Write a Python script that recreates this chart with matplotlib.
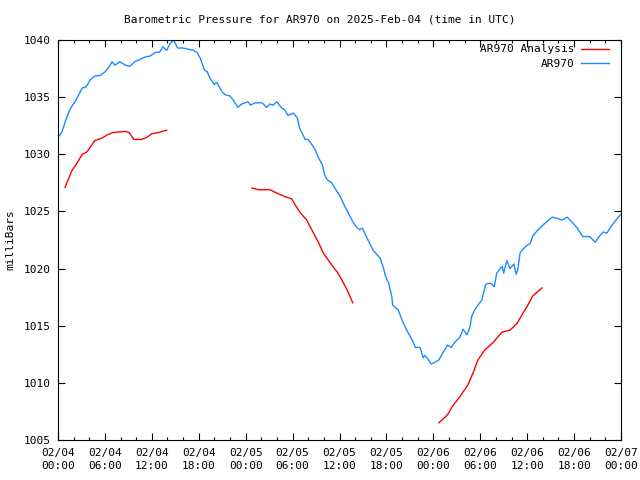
import matplotlib
matplotlib.use("Agg")
import matplotlib.pyplot as plt
from matplotlib.ticker import MultipleLocator

# hours since 2025-02-04 00:00 UTC
obs_hours = [0, 0.5, 1.0, 1.5, 2.3, 3.1, 3.6, 4.1, 4.7, 5.4, 6.0, 6.6, 6.9, 7.3, 7.9, 8.6, 9.2, 9.8,
             10.5, 11.1, 11.8, 12.4, 13.0, 13.4, 13.9, 14.3, 14.8, 15.3, 16.0, 16.6, 17.3, 17.8, 18.2,
             18.7, 19.1, 19.4, 20.0, 20.3, 21.0, 21.4, 22.0, 22.4, 23.0, 23.5, 24.3, 24.6, 25.2, 26.1,
             26.7, 27.1, 27.5, 28.0, 28.6, 29.0, 29.4, 30.1, 30.6, 30.9, 31.6, 32.0, 32.5, 32.9, 33.3,
             33.8, 34.1, 34.4, 35.0, 35.4, 36.1, 36.7, 37.1, 37.7, 38.2, 38.6, 38.9, 39.3, 39.5, 40.3,
             41.2, 41.6, 41.9, 42.3, 42.7, 42.8, 43.5, 44.0, 44.6, 45.3, 45.7, 46.3, 46.7, 46.9, 47.2,
             47.7, 48.2, 48.7, 49.2, 49.8, 50.3, 50.8, 51.4, 51.8, 52.3, 52.7, 52.9, 53.3, 53.7, 54.2,
             54.7, 55.0, 55.4, 55.8, 56.1, 56.8, 57.0, 57.4, 57.8, 58.3, 58.6, 58.8, 59.1, 59.9, 60.4,
             60.7, 61.6, 62.5, 63.2, 63.8, 64.5, 65.1, 65.7, 66.4, 67.1, 68.0, 68.7, 69.2, 69.7, 70.2,
             70.6, 71.2, 71.9]
obs_mb = [1031.5, 1031.95, 1033.0, 1033.9, 1034.75, 1035.8, 1035.9, 1036.5, 1036.85, 1036.9, 1037.2,
          1037.7, 1038.1, 1037.8, 1038.1, 1037.8, 1037.7, 1038.1, 1038.3, 1038.5, 1038.6, 1038.9,
          1038.95, 1039.4, 1039.1, 1039.65, 1040.0, 1039.3, 1039.3, 1039.2, 1039.1, 1038.9, 1038.4,
          1037.4, 1037.2, 1036.7, 1036.1, 1036.3, 1035.45, 1035.2, 1035.1, 1034.75, 1034.1, 1034.4,
          1034.6, 1034.3, 1034.5, 1034.5, 1034.1, 1034.4, 1034.3, 1034.6, 1034.05, 1033.9, 1033.4,
          1033.6, 1033.2, 1032.3, 1031.3, 1031.3, 1030.8, 1030.4, 1029.7, 1029.1, 1028.2, 1027.8,
          1027.5, 1027.05, 1026.3, 1025.4, 1024.9, 1024.1, 1023.6, 1023.4, 1023.55, 1023.0, 1022.7,
          1021.6, 1020.9, 1020.1, 1019.3, 1018.7, 1017.5, 1016.8, 1016.4, 1015.5, 1014.6, 1013.75,
          1013.1, 1013.1, 1012.2, 1012.4, 1012.2, 1011.65, 1011.8, 1012.0, 1012.6, 1013.3, 1013.1,
          1013.6, 1014.0, 1014.7, 1014.2, 1014.9, 1015.8, 1016.4, 1016.8, 1017.25, 1018.6, 1018.7,
          1018.7, 1018.4, 1019.6, 1020.2, 1019.6, 1020.7, 1020.0, 1020.4, 1019.5, 1019.9, 1021.4,
          1022.0, 1022.2, 1022.85, 1023.55, 1024.1, 1024.5, 1024.4, 1024.25, 1024.5, 1024.1, 1023.55,
          1022.8, 1022.8, 1022.3, 1022.8, 1023.2, 1023.1, 1023.55, 1024.1, 1024.7]

an1_hours = [0.9, 1.8, 2.4, 3.1, 3.7, 4.7, 5.6, 6.3, 7.0, 8.6, 9.1, 9.7, 10.7, 11.4, 12.0, 12.8, 13.9]
an1_mb = [1027.1, 1028.6, 1029.2, 1030.0, 1030.2, 1031.2, 1031.4, 1031.7, 1031.9, 1032.0, 1031.9,
          1031.3, 1031.3, 1031.5, 1031.8, 1031.9, 1032.1]
an2_hours = [24.8, 25.6, 27.1, 28.0, 29.0, 29.9, 30.3, 30.9, 31.8, 32.6, 33.3, 33.9, 34.8, 35.7, 36.3,
             37.0, 37.7]
an2_mb = [1027.05, 1026.9, 1026.9, 1026.6, 1026.3, 1026.1, 1025.6, 1024.95, 1024.25, 1023.2, 1022.3,
          1021.4, 1020.5, 1019.7, 1019.0, 1018.1, 1017.0]
an3_hours = [48.7, 49.8, 50.5, 51.4, 52.4, 53.1, 53.7, 54.6, 55.6, 56.8, 57.8, 58.7, 59.3, 60.0, 60.7,
             61.9]
an3_mb = [1006.5, 1007.2, 1008.0, 1008.8, 1009.8, 1010.9, 1012.0, 1012.9, 1013.5, 1014.45, 1014.6,
          1015.2, 1015.9, 1016.7, 1017.6, 1018.3]

xtick_hours = list(range(0, 73, 6))
xtick_labels = ["02/04\n00:00", "02/04\n06:00", "02/04\n12:00", "02/04\n18:00",
                "02/05\n00:00", "02/05\n06:00", "02/05\n12:00", "02/05\n18:00",
                "02/06\n00:00", "02/06\n06:00", "02/06\n12:00", "02/06\n18:00",
                "02/07\n00:00"]

plt.rcParams['font.family'] = ['DejaVu Sans Mono']
plt.rcParams['font.size'] = 8

fig = plt.figure(figsize=(6.4, 4.8), dpi=100)
ax = fig.add_axes([58/640, 40/480, 563/640, 400/480])

red = '#ff0000'
blue = '#1a8cff'
ax.plot(an1_hours, an1_mb, color=red, lw=1.0, label='AR970 Analysis')
ax.plot(an2_hours, an2_mb, color=red, lw=1.0)
ax.plot(an3_hours, an3_mb, color=red, lw=1.0)
ax.plot(obs_hours, obs_mb, color=blue, lw=1.0, label='AR970')

ax.set_xlim(0, 72)
ax.set_ylim(1005, 1040)
ax.set_xticks(xtick_hours)
ax.set_xticklabels(xtick_labels, linespacing=1.3)
ax.xaxis.set_minor_locator(MultipleLocator(2))
ax.set_yticks(range(1005, 1041, 5))
ax.tick_params(axis='both', which='both', direction='in', top=True, right=True, labelsize=8)
ax.tick_params(axis='both', which='major', length=5, width=0.8)
ax.tick_params(axis='x', which='minor', length=2.5, width=0.8)
ax.tick_params(axis='x', which='major', pad=6)
ax.tick_params(axis='y', which='major', pad=5)
for s in ax.spines.values():
    s.set_linewidth(0.8)

leg = ax.legend(loc='upper right', frameon=False, markerfirst=False, handlelength=2.5,
                fontsize=8, borderaxespad=0.0, labelspacing=0.4, handletextpad=0.6,
                bbox_to_anchor=(1 - 8/563, 1.0))
for t in leg.get_texts():
    t.set_ha('right')

fig.text(0.5, 1 - 20/480, 'Barometric Pressure for AR970 on 2025-Feb-04 (time in UTC)',
         ha='center', va='center', fontsize=8)
fig.text(10/640, 0.5, 'milliBars', rotation=90, ha='center', va='center', fontsize=8)

fig.savefig('out.png', dpi=100)
